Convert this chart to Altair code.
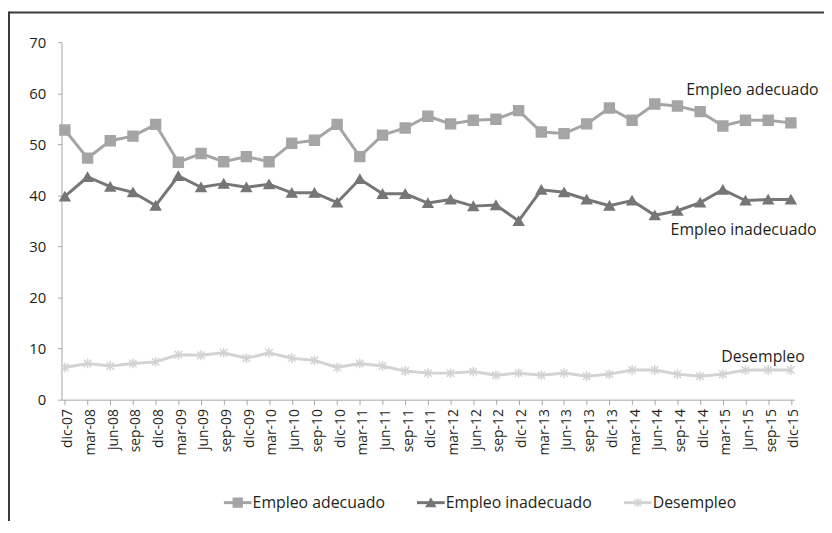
import altair as alt
import pandas as pd

categories = ["dic-07", "mar-08", "jun-08", "sep-08", "dic-08", "mar-09", "jun-09", "sep-09",
              "dic-09", "mar-10", "jun-10", "sep-10", "dic-10", "mar-11", "jun-11", "sep-11",
              "dic-11", "mar-12", "jun-12", "sep-12", "dic-12", "mar-13", "jun-13", "sep-13",
              "dic-13", "mar-14", "jun-14", "sep-14", "dic-14", "mar-15", "jun-15", "sep-15",
              "dic-15"]

adecuado = [52.8, 47.3, 50.7, 51.6, 53.9, 46.5, 48.2, 46.6, 47.6, 46.6, 50.2, 50.8, 53.9, 47.6,
            51.8, 53.2, 55.5, 54.0, 54.7, 54.9, 56.6, 52.4, 52.1, 54.0, 57.1, 54.7, 57.9, 57.5,
            56.4, 53.6, 54.7, 54.7, 54.2]
inadecuado = [39.8, 43.6, 41.7, 40.6, 38.0, 43.8, 41.6, 42.3, 41.6, 42.2, 40.5, 40.5, 38.6, 43.2,
              40.3, 40.3, 38.5, 39.2, 37.9, 38.1, 35.0, 41.1, 40.6, 39.2, 38.0, 39.0, 36.1, 37.0,
              38.6, 41.1, 39.0, 39.2, 39.2]
desempleo = [6.3, 7.1, 6.6, 7.1, 7.4, 8.8, 8.7, 9.2, 8.1, 9.2, 8.1, 7.7, 6.3, 7.1, 6.6, 5.6,
             5.2, 5.2, 5.5, 4.8, 5.2, 4.8, 5.2, 4.6, 5.0, 5.8, 5.8, 5.0, 4.6, 5.0, 5.8, 5.8, 5.8]

series = ["Empleo adecuado", "Empleo inadecuado", "Desempleo"]
y_ticks = [0, 10, 20, 30, 40, 50, 60, 70]

# annotation labels near the right end
annot_text = ["Empleo adecuado", "Empleo inadecuado", "Desempleo"]
annot_y = [60.7, 33.2, 8.3]

# styles
colors = ["#a5a5a5", "#767676", "#d3d3d3"]
asterisk = "M-0.75,-0.75L0.75,0.75M0.75,-0.75L-0.75,0.75M0,-1L0,1"
shapes = ["square", "triangle-up", asterisk]
annot_dx = [28, 26, 14]
FONT = "Open Sans"
TXT = "#231f20"

rows = []
for name, vals in zip(series, [adecuado, inadecuado, desempleo]):
    for c, v in zip(categories, vals):
        rows.append({"cat": c, "val": v, "serie": name})
df = pd.DataFrame(rows)
one = pd.DataFrame({"k": [0]})

W, H = 740, 361

xenc = alt.X("cat:N", sort=categories,
             scale=alt.Scale(type="point", padding=0.15, domain=categories),
             axis=alt.Axis(title=None, labelAngle=270, labelFont=FONT, labelFontSize=14,
                           labelColor=TXT, domainColor="#a6a6a6", tickColor="#a6a6a6",
                           tickSize=5, labelPadding=4, labelOffset=3, grid=False))
yenc = alt.Y("val:Q", scale=alt.Scale(domain=[0, 70], nice=False),
             axis=alt.Axis(title=None, values=y_ticks, labelFont=FONT, labelFontSize=15,
                           labelColor=TXT, domainColor="#a6a6a6", tickColor="#a6a6a6",
                           tickSize=4, labelPadding=12, grid=False))
cenc = alt.Color("serie:N", scale=alt.Scale(domain=series, range=colors), legend=None)

lines = alt.Chart(df).mark_line(strokeWidth=3).encode(x=xenc, y=yenc, color=cenc, detail="serie:N")
pts = alt.Chart(df).mark_point(filled=True, size=100, strokeWidth=1.5, opacity=1).encode(
    x=xenc, y=yenc,
    fill=alt.Fill("serie:N", scale=alt.Scale(domain=series, range=colors), legend=None),
    stroke=alt.Stroke("serie:N", scale=alt.Scale(domain=series, range=colors), legend=None),
    shape=alt.Shape("serie:N", scale=alt.Scale(domain=series, range=shapes), legend=None),
)

ann_layers = []
for t, yv, dx in zip(annot_text, annot_y, annot_dx):
    a = pd.DataFrame({"cat": ["dic-15"], "val": [yv], "txt": [t]})
    ann_layers.append(alt.Chart(a).mark_text(align="right", baseline="middle", font=FONT,
                                             fontSize=16, color=TXT, dx=dx).encode(
        x=alt.X("cat:N", sort=categories), y=alt.Y("val:Q"), text="txt:N"))

# custom legend
leg_x = [164, 359, 568]  # left of line symbol, relative to plot area
leg_y = H + 104
legend_layers = []
for i, name in enumerate(series):
    x0 = leg_x[i]
    legend_layers.append(alt.Chart(one).mark_rule(strokeWidth=3, color=colors[i]).encode(
        x=alt.value(x0), x2=alt.value(x0 + 28), y=alt.value(leg_y)))
    legend_layers.append(alt.Chart(one).mark_point(filled=True, size=80, strokeWidth=1.5,
                                                    opacity=1, fill=colors[i],
                                                    stroke=colors[i], shape=shapes[i]).encode(
        x=alt.value(x0 + 14), y=alt.value(leg_y)))
    legend_layers.append(alt.Chart(one).mark_text(align="left", baseline="middle", font=FONT,
                                                   fontSize=16, color=TXT, text=name).encode(
        x=alt.value(x0 + 29), y=alt.value(leg_y)))

# frame lines (left and top)
frame = [
    alt.Chart(one).mark_rule(strokeWidth=2, color="#3a3a3a").encode(
        x=alt.value(-53), x2=alt.value(W + 40), y=alt.value(-30)),
    alt.Chart(one).mark_rule(strokeWidth=2, color="#3a3a3a").encode(
        x=alt.value(-53), y=alt.value(-31), y2=alt.value(H + 130)),
]

chart = alt.layer(lines, pts, *ann_layers, *legend_layers, *frame).properties(
    width=W, height=H,
    background="white",
    autosize=alt.AutoSizeParams(type="none"),
    padding={"left": 54, "top": 32, "right": 30, "bottom": 120},
).configure_view(stroke=None)

chart.save("out.html", embed_options={"renderer": "svg", "actions": False})
